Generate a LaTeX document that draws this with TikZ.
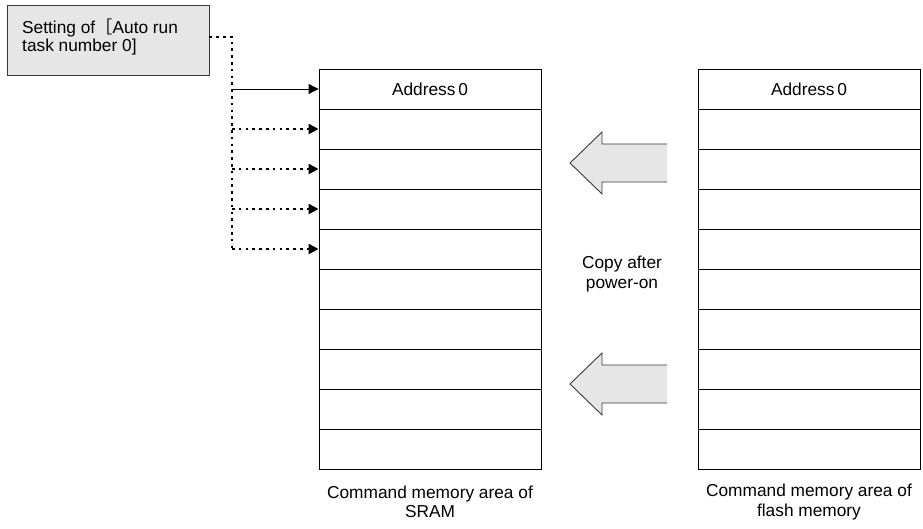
\documentclass[tikz,border=0pt]{standalone}
\usepackage{fontspec}
\setmainfont{Liberation Sans}
\newfontfamily\cjkfont{Noto Sans CJK JP}
\usetikzlibrary{arrows.meta}
\definecolor{panel}{HTML}{E6E6E6}
\definecolor{edge}{HTML}{3A3A3A}
\begin{document}
\begin{tikzpicture}[x=1pt,y=-1pt,
  every node/.style={font=\fontsize{17.3}{19.5}\selectfont, inner sep=0pt},
  cell/.style={draw=black, line width=0.9pt, rectangle,
    minimum width=222pt, minimum height=40pt},
  setbox/.style={draw=edge, fill=panel, line width=0.9pt, rectangle,
    minimum width=202pt, minimum height=70pt},
  tipend/.style={-{Triangle[length=10pt,width=10pt]}},
  solidlink/.style={line width=0.9pt, tipend},
  dotlink/.style={line width=2.8pt, dash pattern=on 2.6pt off 4.2pt},
  bigfill/.style={fill=panel},
  bigedge/.style={draw=edge, line width=0.9pt, line join=miter},
  caption/.style={align=center}
]
\useasboundingbox (0,0) rectangle (923,529);

% memory rows of the two command areas
\foreach \i in {1,...,10} {
  \node[cell] (s\i) at (430,{49+40*\i}) {};
  \node[cell] (f\i) at (809,{49+40*\i}) {};
}
\node (saddr) at (s1.center) {Address\,0};
\node (faddr) at (f1.center) {Address\,0};

% parameter box
\node[setbox] (set) at (108,40) {};
\node[anchor=west, align=left, font=\fontsize{17.3}{17.5}\selectfont]
  (settext) at (22,37) {Setting of{\cjkfont ［}Auto run\\task number 0]};

% selector bus
\coordinate (b0) at (232,37);
\coordinate (b5) at (b0 |- s5.west);
\foreach \i in {2,3,4} \coordinate (b\i) at (b0 |- s\i.west);
\coordinate (b1) at (b0 |- s1.west);
\draw[dotlink] (set.east |- b0) -- (b0) -- (b5);
\draw[dotlink, tipend] (b5) -- (s5.west);
\foreach \i in {2,3,4} \draw[dotlink, tipend] (b\i) -- (s\i.west);
\draw[solidlink] (b1) -- (s1.west);

% copy arrows from flash to SRAM
\foreach \c in {163,384} {
  \fill[bigfill] (667,{\c-19}) -- (602,{\c-19}) -- (602,{\c-31}) -- (570,\c)
    -- (602,{\c+31}) -- (602,{\c+19}) -- (667,{\c+19}) -- cycle;
  \draw[bigedge] (667,{\c-19}) -- (602,{\c-19}) -- (602,{\c-31}) -- (570,\c)
    -- (602,{\c+31}) -- (602,{\c+19}) -- (667,{\c+19});
}
\node[caption] (copy) at (622,274) {Copy after\\power-on};

% captions
\node[caption] (scap) at (430,502) {Command memory area of\\SRAM};
\node[caption] (fcap) at (809,502) {Command memory area of\\flash memory};
\end{tikzpicture}
\end{document}
